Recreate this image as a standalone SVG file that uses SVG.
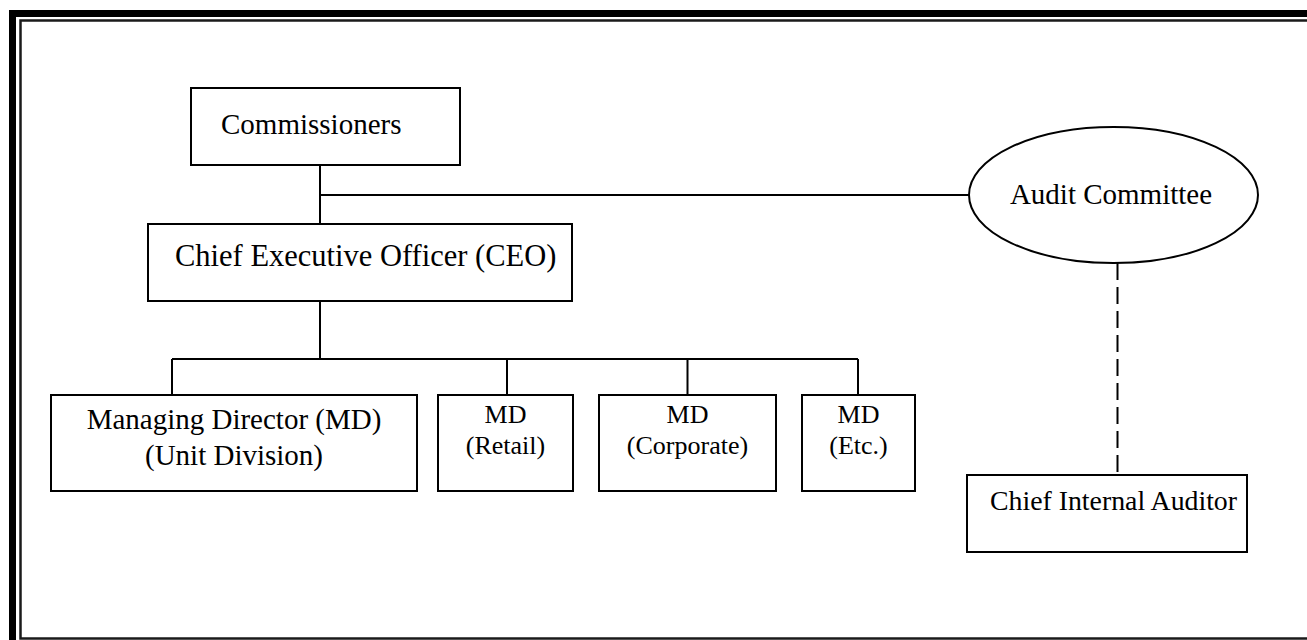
<svg xmlns="http://www.w3.org/2000/svg" width="1307" height="640" viewBox="0 0 1307 640">
<style>
.box{fill:#fff;stroke:#000;stroke-width:2}
.ln{fill:none;stroke:#000;stroke-width:2}
.dash{fill:none;stroke:#000;stroke-width:2;stroke-dasharray:17 7}
text{font-family:"Liberation Serif","Times New Roman",serif;fill:#000}
.t{font-size:29px}
.s{font-size:26px}
.c{text-anchor:middle}
</style>
<rect width="1307" height="640" fill="#fff"/>
<g id="frame">
<rect x="12.5" y="13.5" width="1320" height="650" fill="none" stroke="#000" stroke-width="7"/>
<rect x="20.5" y="20.5" width="1310" height="618" fill="none" stroke="#1a1a1a" stroke-width="2.5"/>
</g>
<g id="connectors">
<path class="ln" d="M320 165V224M320 195H970M320 301V359M172 359H858M172 359V395M507 359V395M687.5 359V395M858 359V395"/>
<path class="dash" d="M1117.5 263V475"/>
</g>
<g id="commissioners">
<rect class="box" x="191" y="88" width="269" height="77"/>
<text class="t" x="221" y="134">Commissioners</text>
</g>
<g id="ceo">
<rect class="box" x="148" y="224" width="424" height="77"/>
<text class="t" x="175" y="266" style="font-size:30.5px">Chief Executive Officer (CEO)</text>
</g>
<g id="audit-committee">
<ellipse class="box" cx="1113.5" cy="195" rx="144.5" ry="68"/>
<text class="t c" x="1111" y="204">Audit Committee</text>
</g>
<g id="md-unit">
<rect class="box" x="51" y="395" width="366" height="96"/>
<text class="t c" x="234" y="429">Managing Director (MD)</text>
<text class="t c" x="234" y="465">(Unit Division)</text>
</g>
<g id="md-retail">
<rect class="box" x="438" y="395" width="135" height="96"/>
<text class="s c" x="505.5" y="423">MD</text>
<text class="s c" x="505.5" y="454">(Retail)</text>
</g>
<g id="md-corporate">
<rect class="box" x="599" y="395" width="177" height="96"/>
<text class="s c" x="687.5" y="423">MD</text>
<text class="s c" x="687.5" y="454">(Corporate)</text>
</g>
<g id="md-etc">
<rect class="box" x="802" y="395" width="113" height="96"/>
<text class="s c" x="858.5" y="423">MD</text>
<text class="s c" x="858.5" y="454">(Etc.)</text>
</g>
<g id="chief-internal-auditor">
<rect class="box" x="967" y="475" width="280" height="77"/>
<text class="t" x="990" y="510" style="font-size:27.8px">Chief Internal Auditor</text>
</g>
</svg>
